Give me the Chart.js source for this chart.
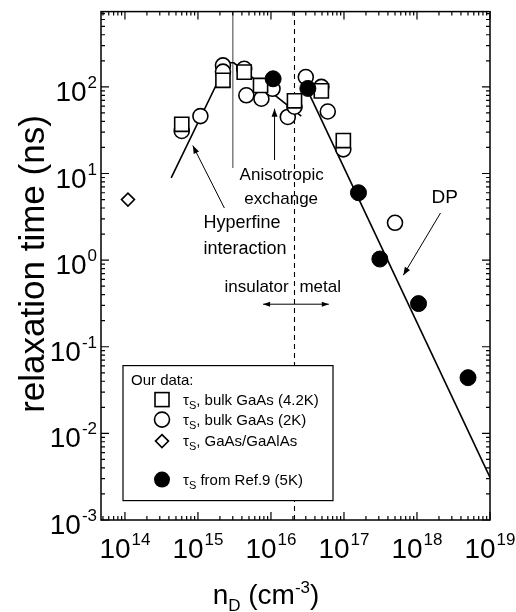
<!DOCTYPE html>
<html>
<head>
<meta charset="utf-8">
<script src="https://cdn.jsdelivr.net/npm/chart.js@4.4.0/dist/chart.umd.min.js"></script>
<style>
  html, body { margin: 0; padding: 0; background: #fff; }
  canvas { display: block; }
</style>
</head>
<body>
<canvas id="relax-chart" width="516" height="612"></canvas>
<script>
// donor density (cm^-3) and spin relaxation time (ns)
const squareN = [6e14, 2.2e15, 4.3e15, 7.2e15, 2.1e16, 4.9e16, 9.8e16]
const squareTau = [37, 119, 148, 104, 69, 90, 24]

const circleN = [6e14, 1.08e15, 2.2e15, 2.2e15, 4.3e15, 4.6e15, 7.4e15, 1.05e16, 1.7e16, 2.1e16, 3.0e16, 4.9e16, 6.0e16, 9.8e16, 5.0e17]
const circleTau = [31, 46, 177, 150, 162, 80, 73, 95, 45, 59, 130, 100, 52, 19, 2.7]

const diamondN = [1.1e14]
const diamondTau = [5.0]

const refN = [1.07e16, 3.2e16, 1.58e17, 3.1e17, 1.05e18, 5.0e18]
const refTau = [124, 96, 6.0, 1.03, 0.315, 0.044]

// model curves
const hyperfineN = [4.3e14, 2.5e15, 3.1e15, 2.6e16]
const hyperfineTau = [8.9, 190, 190, 46]
const dpN = [3.1e16, 1e19]
const dpTau = [95, 3.1e-3]

// metal-insulator transition and the hyperfine/exchange crossover
const mitN = 2.1e16
const crossN = 3e15
const crossTauLow = 11.6

const xMin = 4.7e13, xMax = 1e19
const yMin = 1e-3, yMax = 740
const xDecades = [14, 15, 16, 17, 18, 19]
const yDecades = [-3, -2, -1, 0, 1, 2]

const font = '"Liberation Sans", Arial, Helvetica, sans-serif'

const pts = (xs, ys) => xs.map((x, i) => ({ x, y: ys[i] }))

function arrowHead(ctx, x0, y0, x1, y1, len, half) {
  const ang = Math.atan2(y1 - y0, x1 - x0)
  ctx.beginPath()
  ctx.moveTo(x1, y1)
  ctx.lineTo(x1 - len * Math.cos(ang) + half * Math.sin(ang), y1 - len * Math.sin(ang) - half * Math.cos(ang))
  ctx.lineTo(x1 - len * Math.cos(ang) - half * Math.sin(ang), y1 - len * Math.sin(ang) + half * Math.cos(ang))
  ctx.closePath()
  ctx.fill()
}

function arrow(ctx, x0, y0, x1, y1) {
  ctx.beginPath()
  ctx.moveTo(x0, y0)
  ctx.lineTo(x1, y1)
  ctx.stroke()
  arrowHead(ctx, x0, y0, x1, y1, 8, 3)
}

// "10" with a raised exponent; cx is the centre (or right edge), cy the middle of "10"
function powerLabel(ctx, exp, cx, cy, align) {
  const base = '10', sup = String(exp)
  ctx.font = `28px ${font}`
  const wb = ctx.measureText(base).width
  ctx.font = `17px ${font}`
  const ws = ctx.measureText(sup).width
  const w = wb + ws + 1
  let left = cx - w / 2
  if (align === 'right') left = cx - w
  ctx.textAlign = 'left'
  ctx.textBaseline = 'alphabetic'
  ctx.font = `28px ${font}`
  ctx.fillText(base, left, cy + 10)
  ctx.font = `17px ${font}`
  ctx.fillText(sup, left + wb + 1, cy - 3)
}

// tau with a subscript S, followed by plain text
function tauText(ctx, text, x, y) {
  ctx.textAlign = 'left'
  ctx.textBaseline = 'alphabetic'
  ctx.font = `15px ${font}`
  ctx.fillText('τ', x, y)
  const wt = ctx.measureText('τ').width
  ctx.font = `11px ${font}`
  ctx.fillText('S', x + wt, y + 4)
  const ws = ctx.measureText('S').width
  ctx.font = `15px ${font}`
  ctx.fillText(text, x + wt + ws, y)
}

const frame = {
  id: 'frame',
  afterDraw(chart) {
    const { ctx, chartArea: a, scales: { x, y } } = chart
    ctx.save()
    ctx.strokeStyle = '#000'
    ctx.fillStyle = '#000'
    ctx.lineWidth = 1.5
    ctx.strokeRect(a.left, a.top, a.right - a.left, a.bottom - a.top)

    // inward log ticks on all four sides
    ctx.lineWidth = 1.2
    ctx.beginPath()
    for (let d = 13; d <= 19; d++) {
      for (let m = 1; m <= 9; m++) {
        const v = m * Math.pow(10, d)
        if (v < xMin || v > xMax) continue
        const px = x.getPixelForValue(v)
        const len = m === 1 ? 8 : 4
        ctx.moveTo(px, a.bottom); ctx.lineTo(px, a.bottom - len)
        ctx.moveTo(px, a.top); ctx.lineTo(px, a.top + len)
      }
    }
    for (let d = -3; d <= 2; d++) {
      for (let m = 1; m <= 9; m++) {
        const v = m * Math.pow(10, d)
        if (v < yMin || v > yMax) continue
        const py = y.getPixelForValue(v)
        const len = m === 1 ? 8 : 4
        ctx.moveTo(a.left, py); ctx.lineTo(a.left + len, py)
        ctx.moveTo(a.right, py); ctx.lineTo(a.right - len, py)
      }
    }
    ctx.stroke()

    // tick labels
    xDecades.forEach(d => powerLabel(ctx, d, x.getPixelForValue(Math.pow(10, d)), a.bottom + 28, 'center'))
    yDecades.forEach(d => powerLabel(ctx, d, a.left - 4, y.getPixelForValue(Math.pow(10, d)) + 4, 'right'))

    // axis titles
    ctx.textAlign = 'center'
    ctx.textBaseline = 'middle'
    ctx.save()
    ctx.translate(34, 264)
    ctx.rotate(-Math.PI / 2)
    ctx.font = `35px ${font}`
    ctx.fillText('relaxation time (ns)', 0, 0)
    ctx.restore()

    ctx.textAlign = 'left'
    ctx.textBaseline = 'alphabetic'
    const parts = [['n', 28, 0], ['D', 17, 7], [' (cm', 28, 0], ['-3', 17, -11], [')', 28, 0]]
    let total = 0
    parts.forEach(([t, s]) => { ctx.font = `${s}px ${font}`; total += ctx.measureText(t).width })
    let cx = 266 - total / 2
    parts.forEach(([t, s, dy]) => {
      ctx.font = `${s}px ${font}`
      ctx.fillText(t, cx, 604 + dy)
      cx += ctx.measureText(t).width
    })

    // annotations placed in data space
    const P = (n, t) => [x.getPixelForValue(n), y.getPixelForValue(t)]
    ctx.lineWidth = 1
    ctx.font = `18px ${font}`
    ctx.textAlign = 'center'
    ctx.textBaseline = 'middle'
    let p = P(4.0e15, 2.7); ctx.fillText('Hyperfine', p[0], p[1])
    p = P(4.4e15, 1.33); ctx.fillText('interaction', p[0], p[1])
    let q0 = P(2.3e15, 4.0), q1 = P(8.5e14, 21)
    arrow(ctx, q0[0], q0[1], q1[0], q1[1])

    ctx.font = `17px ${font}`
    p = P(1.4e16, 9.6); ctx.fillText('Anisotropic', p[0], p[1])
    p = P(1.38e16, 5.0); ctx.fillText('exchange', p[0], p[1])
    q0 = P(1.12e16, 14.3); q1 = P(1.12e16, 56)
    arrow(ctx, q0[0], q0[1], q1[0], q1[1])

    ctx.font = `19px ${font}`
    p = P(2.4e18, 5.2); ctx.fillText('DP', p[0], p[1])
    q0 = P(2.1e18, 3.5); q1 = P(6.5e17, 0.67)
    arrow(ctx, q0[0], q0[1], q1[0], q1[1])

    ctx.font = `17px ${font}`
    ctx.textAlign = 'right'
    p = P(1.75e16, 0.48); ctx.fillText('insulator', p[0], p[1])
    ctx.textAlign = 'left'
    p = P(2.45e16, 0.48); ctx.fillText('metal', p[0], p[1])
    q0 = P(7.8e15, 0.31); q1 = P(6.2e16, 0.31)
    ctx.beginPath(); ctx.moveTo(q0[0], q0[1]); ctx.lineTo(q1[0], q1[1]); ctx.stroke()
    arrowHead(ctx, q1[0], q1[1], q0[0], q0[1], 7, 2.5)
    arrowHead(ctx, q0[0], q0[1], q1[0], q1[1], 7, 2.5)

    // legend box
    const bx = a.left + 22, by = a.top + 354, bw = 210, bh = 135
    ctx.fillStyle = '#fff'
    ctx.fillRect(bx, by, bw, bh)
    ctx.lineWidth = 1.2
    ctx.strokeRect(bx, by, bw, bh)
    ctx.fillStyle = '#000'
    ctx.textAlign = 'left'
    ctx.textBaseline = 'alphabetic'
    ctx.font = `15px ${font}`
    ctx.fillText('Our data:', bx + 8, by + 19)
    const mx = bx + 39, tx = bx + 60
    ctx.lineWidth = 1.6
    ctx.strokeRect(mx - 7, by + 27, 14, 14)
    tauText(ctx, ', bulk GaAs (4.2K)', tx, by + 39)
    ctx.beginPath(); ctx.arc(mx, by + 54, 7.5, 0, Math.PI * 2); ctx.stroke()
    tauText(ctx, ', bulk GaAs (2K)', tx, by + 59)
    ctx.beginPath()
    ctx.moveTo(mx, by + 69); ctx.lineTo(mx + 6.5, by + 75.5); ctx.lineTo(mx, by + 82); ctx.lineTo(mx - 6.5, by + 75.5)
    ctx.closePath(); ctx.stroke()
    tauText(ctx, ', GaAs/GaAlAs', tx, by + 80)
    ctx.beginPath(); ctx.arc(mx, by + 114, 8, 0, Math.PI * 2); ctx.fill()
    tauText(ctx, ' from Ref.9 (5K)', tx, by + 119)
    ctx.restore()
  }
}

// axes take no room of their own; the frame plugin draws ticks and labels
const noRoom = { afterFit(scale) { if (scale.isHorizontal()) scale.height = 0; else scale.width = 0 } }

new Chart(document.getElementById('relax-chart'), {
  type: 'scatter',
  data: {
    datasets: [
      {
        label: 'Ref.9 (5K)',
        data: pts(refN, refTau),
        pointStyle: 'circle',
        pointRadius: 8,
        backgroundColor: '#000',
        borderColor: '#000',
        borderWidth: 1
      },
      {
        label: 'bulk GaAs (4.2K)',
        data: pts(squareN, squareTau),
        pointStyle: 'rect',
        pointRadius: 10,
        backgroundColor: '#fff',
        borderColor: '#000',
        borderWidth: 1.6
      },
      {
        label: 'bulk GaAs (2K)',
        data: pts(circleN, circleTau),
        pointStyle: 'circle',
        pointRadius: 7.5,
        backgroundColor: '#fff',
        borderColor: '#000',
        borderWidth: 1.6
      },
      {
        label: 'GaAs/GaAlAs',
        data: pts(diamondN, diamondTau),
        pointStyle: 'rectRot',
        pointRadius: 6.5,
        backgroundColor: '#fff',
        borderColor: '#000',
        borderWidth: 1.6
      },
      {
        label: 'hyperfine + exchange',
        data: pts(hyperfineN, hyperfineTau),
        showLine: true,
        pointRadius: 0,
        borderColor: '#000',
        borderWidth: 1.6
      },
      {
        label: 'DP',
        data: pts(dpN, dpTau),
        showLine: true,
        pointRadius: 0,
        borderColor: '#000',
        borderWidth: 1.6
      },
      {
        label: 'MIT',
        data: [{ x: mitN, y: yMin }, { x: mitN, y: yMax }],
        showLine: true,
        pointRadius: 0,
        borderColor: '#000',
        borderWidth: 1.1,
        borderDash: [5, 4]
      },
      {
        label: 'crossover',
        data: [{ x: crossN, y: yMax }, { x: crossN, y: crossTauLow }],
        showLine: true,
        pointRadius: 0,
        borderColor: '#777',
        borderWidth: 0.8
      }
    ]
  },
  options: {
    responsive: false,
    animation: false,
    devicePixelRatio: 1,
    layout: { padding: { left: 101, right: 26, top: 6, bottom: 92 } },
    plugins: { legend: { display: false }, tooltip: { enabled: false } },
    scales: {
      x: {
        type: 'logarithmic',
        min: xMin,
        max: xMax,
        afterFit: noRoom.afterFit,
        grid: { display: false },
        border: { display: false },
        ticks: { display: false }
      },
      y: {
        type: 'logarithmic',
        min: yMin,
        max: yMax,
        afterFit: noRoom.afterFit,
        grid: { display: false },
        border: { display: false },
        ticks: { display: false }
      }
    }
  },
  plugins: [frame]
})
</script>
</body>
</html>
